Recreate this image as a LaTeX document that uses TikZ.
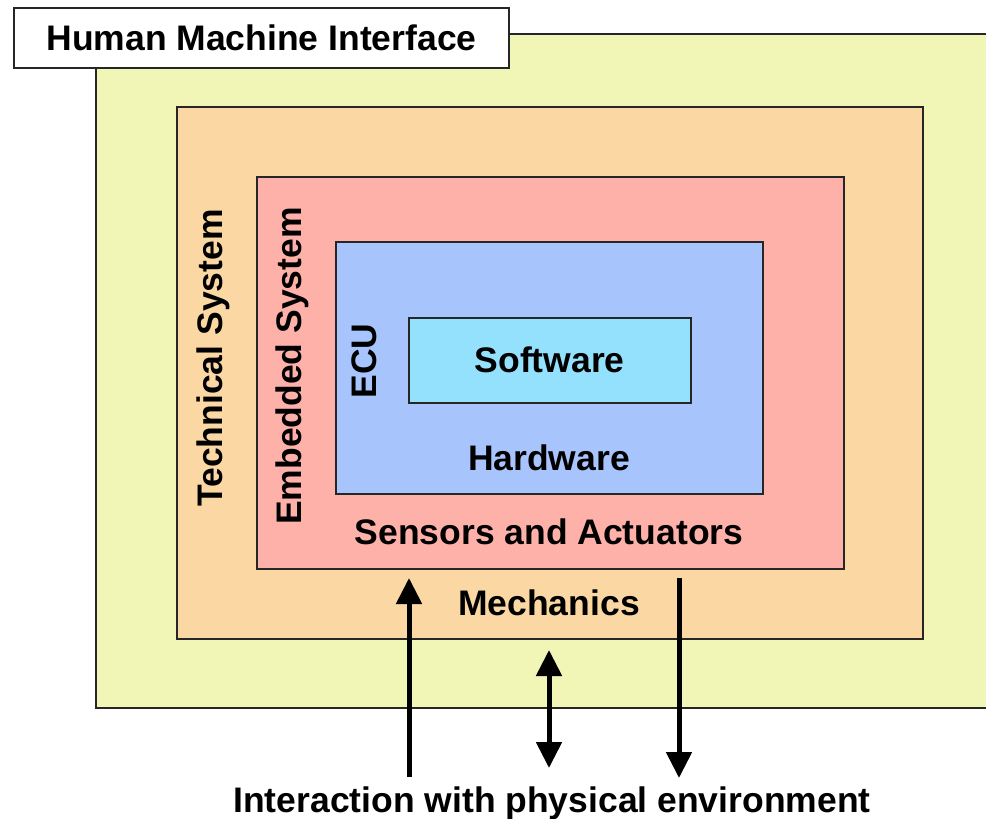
\documentclass[tikz,border=0pt]{standalone}
\usepackage{fontspec}
\setmainfont{Liberation Sans}
\usetikzlibrary{positioning,arrows.meta}
\definecolor{hmic}{HTML}{F1F5B6}
\definecolor{techc}{HTML}{FBD7A4}
\definecolor{embc}{HTML}{FEB1A9}
\definecolor{ecuc}{HTML}{A8C4FC}
\definecolor{swc}{HTML}{93E1FC}
\tikzset{
  layer/.style={draw=black!85, line width=1.5pt, anchor=north west, inner sep=0pt},
  lbl/.style={font=\fontsize{35.5}{40}\selectfont\bfseries, inner sep=0pt},
  flow/.style={line width=5pt, -{Triangle[length=26pt,width=25pt]}},
  flowboth/.style={line width=5pt, {Triangle[length=26pt,width=25pt]}-{Triangle[length=26pt,width=25pt]}}
}

\begin{document}
\begin{tikzpicture}[x=1pt,y=-1pt]
  \useasboundingbox (0,0) rectangle (986,819);
  \begin{scope}
    \clip (0,0) rectangle (986,819);
    % nested layers
    \node[layer, fill=hmic, minimum width=920pt, minimum height=674pt] (hmi) at (95,33) {};
  \end{scope}
  \node[layer, fill=techc, minimum width=746pt, minimum height=532pt] (tech) at (176,106) {};
  \node[layer, fill=embc, minimum width=587pt, minimum height=392pt] (emb) at (256,176) {};
  \node[layer, fill=ecuc, minimum width=427pt, minimum height=252pt] (ecu) at (335,241) {};
  \node[layer, fill=swc, minimum width=282pt, minimum height=85pt] (sw) at (408,317) {};
  % label of the outer layer
  \node[layer, fill=white, line width=2pt, minimum width=495pt, minimum height=60pt] (hmibox) at (13,7) {};
  \node[lbl] (hmilbl) at (hmibox.center) {Human Machine Interface};
  % texts
  \node[lbl] (swlbl) at (sw.center) {Software};
  \node[lbl] (hwlbl) at (549,458) {Hardware};
  \node[lbl] (salbl) at (549,532) {Sensors and Actuators};
  \node[lbl] (mechlbl) at (549,603) {Mechanics};
  \node[lbl, rotate=90] (techlbl) at (213,358) {Technical System};
  \node[lbl, rotate=90] (emblbl) at (292,366) {Embedded System};
  \node[lbl, rotate=90] (eculbl) at (364,361) {ECU};
  \node[lbl] (envlbl) at (552,803) {Interaction with physical environment};
  % interaction arrows
  \coordinate (inbot) at (409,777);
  \coordinate (intop) at (409,578);
  \coordinate (outtop) at (679,578);
  \coordinate (outbot) at (679,778);
  \coordinate (bitop) at (549,650);
  \coordinate (bibot) at (549,768);
  \draw[flow] (inbot) -- (intop);
  \draw[flow] (outtop) -- (outbot);
  \draw[flowboth] (bitop) -- (bibot);
\end{tikzpicture}
\end{document}
